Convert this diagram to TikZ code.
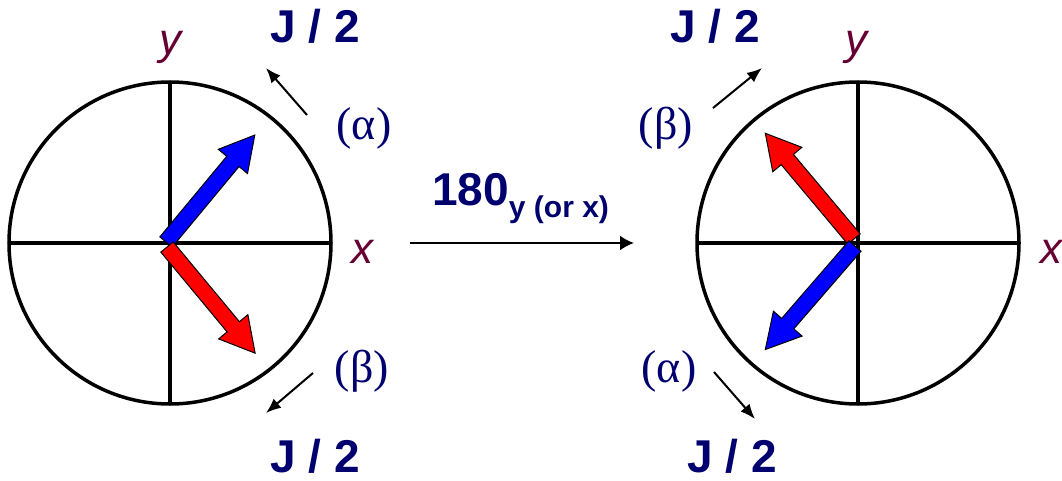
\documentclass[tikz,border=0pt]{standalone}
\usepackage{fontspec}
\setmainfont{Liberation Serif}
\newfontfamily\arialfont{Liberation Sans}
\usetikzlibrary{shapes.arrows,arrows.meta}
\definecolor{navy}{RGB}{0,0,110}
\definecolor{maroon}{RGB}{102,0,51}

\begin{document}
\begin{tikzpicture}[x=1pt,y=-1pt,
  spin/.style={single arrow, draw=black, line width=1pt, inner xsep=0pt, inner ysep=7.5pt, outer sep=0pt,
    single arrow head extend=11pt, single arrow tip angle=58, anchor=tail},
  jlab/.style={text=navy, anchor=base, inner sep=0pt, text depth=0pt, font=\arialfont\bfseries\fontsize{46}{50}\selectfont},
  axlab/.style={text=maroon, anchor=base, inner sep=0pt, font=\arialfont\itshape\fontsize{44}{48}\selectfont},
  spinlab/.style={text=navy, anchor=base, inner sep=0pt, font=\fontsize{46}{50}\selectfont},
  small/.style={line width=2pt, ->, >={Latex[length=15pt,width=12pt]}}]
\useasboundingbox (0,0) rectangle (1062,481);
%%%%%%%%%%%%%%%%%%%
\draw[line width=3.5pt] (170,243) circle (161pt);
\draw[line width=3.5pt] (9,243) -- (331,243);
\draw[line width=3.5pt] (170,82) -- (170,404);
\draw[line width=3.5pt] (858,243) circle (161pt);
\draw[line width=3.5pt] (697,243) -- (1019,243);
\draw[line width=3.5pt] (858,82) -- (858,404);

%%%%%%%%%%%%%%%%%%%
\node[spin, fill=blue, rotate=50.3, minimum height=139pt] (alphaL) at (166,242) {};
\node[spin, fill=red, rotate=-50.3, minimum height=138pt] (betaL) at (167,247) {};
\node[spin, fill=red, rotate=130, minimum height=138pt] (betaR) at (854,239) {};
\node[spin, fill=blue, rotate=229.1, minimum height=137pt] (alphaR) at (855,246) {};

%%%%%%%%%%%%%%%%%%%%%
\node[axlab] (yL) at (170,55) {y};
\node[axlab] (xL) at (362,263) {x};
\node[axlab] (yR) at (856,55) {y};
\node[axlab] (xR) at (1051,263) {x};

\node[spinlab] (laL) at (364,140) {(α)};
\node[spinlab] (lbL) at (362,382) {(β)};
\node[spinlab] (lbR) at (666,140) {(β)};
\node[spinlab] (laR) at (669,382) {(α)};

\node[jlab] (jtopL) at (315,43) {J / 2};
\node[jlab] (jbotL) at (315,472) {J / 2};
\node[jlab] (jtopR) at (715,43) {J / 2};
\node[jlab] (jbotR) at (732,472) {J / 2};

\node[jlab, anchor=base west] (rot) at (432,205) {180{\fontsize{30}{30}\selectfont\raisebox{-13pt}{y (or x)}}};

%%%%%%%%%%%%%%%%%%%
\coordinate (aLs) at (307,115); \coordinate (aLe) at (266,68);
\coordinate (bLs) at (313,373); \coordinate (bLe) at (266,413);
\coordinate (bRs) at (713,108); \coordinate (bRe) at (762,68);
\coordinate (aRs) at (714,372); \coordinate (aRe) at (755,419);
\draw[small] (aLs) -- (aLe);
\draw[small] (bLs) -- (bLe);
\draw[small] (bRs) -- (bRe);
\draw[small] (aRs) -- (aRe);

\coordinate (pulseS) at (410,243); \coordinate (pulseE) at (634,243);
\draw[line width=2pt, ->, >={Latex[length=14pt,width=15pt]}] (pulseS) -- (pulseE);
\end{tikzpicture}
\end{document}
